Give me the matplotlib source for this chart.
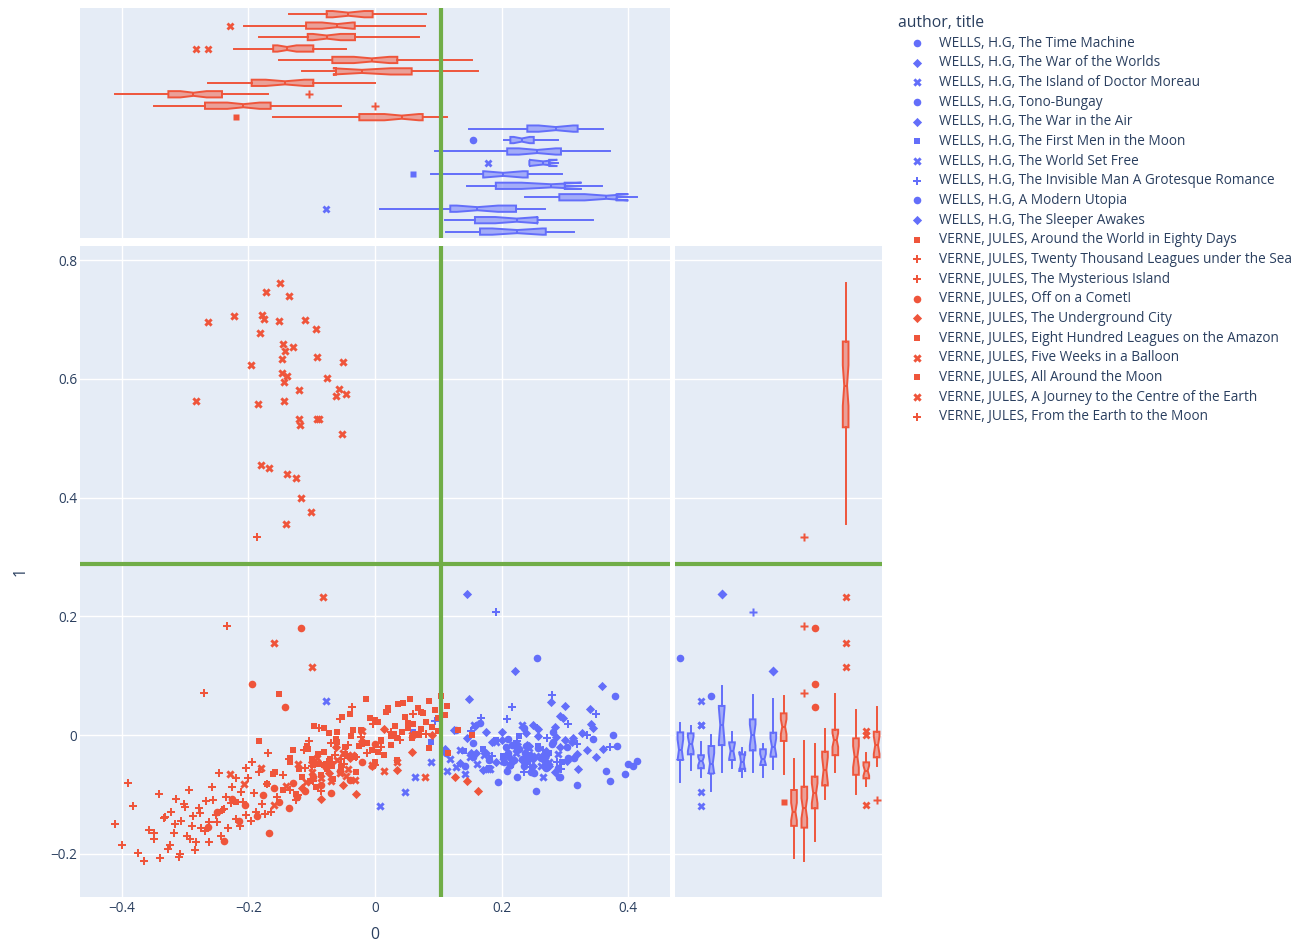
import matplotlib.pyplot as plt
import matplotlib.colors as mcolors
from matplotlib.ticker import FuncFormatter

plt.rcParams['font.family'] = ['Open Sans', 'DejaVu Sans']

# --- data: one x list and one y list per book ---
titles = [
    "The Time Machine", "The War of the Worlds", "The Island of Doctor Moreau",
    "Tono-Bungay", "The War in the Air", "The First Men in the Moon",
    "The World Set Free", "The Invisible Man A Grotesque Romance",
    "A Modern Utopia", "The Sleeper Awakes",
    "Around the World in Eighty Days", "Twenty Thousand Leagues under the Sea",
    "The Mysterious Island", "Off on a Comet!", "The Underground City",
    "Eight Hundred Leagues on the Amazon", "Five Weeks in a Balloon",
    "All Around the Moon", "A Journey to the Centre of the Earth",
    "From the Earth to the Moon",
]
authors = ["WELLS, H.G"] * 10 + ["VERNE, JULES"] * 10
symbols = ['o', 'D', 'X', 'o', 'D', 's', 'X', 'P', 'o', 'D',
           's', 'P', 'P', 'o', 'D', 's', 'X', 's', 'X', 'P']

tm_x = [0.113, 0.128, 0.142, 0.155, 0.166, 0.180, 0.195, 0.210, 0.225, 0.236,
        0.246, 0.2555, 0.270, 0.282, 0.293, 0.304, 0.315]
tm_y = [-0.030, 0.008, -0.052, -0.014, 0.0197, -0.042, -0.079, -0.006, -0.025,
        0.012, -0.062, 0.130, -0.034, 0.0045, -0.070, -0.020, -0.038]

wow_x = [0.111, 0.125, 0.135, 0.145, 0.152, 0.158, 0.170, 0.185, 0.200, 0.212,
         0.224, 0.232, 0.238, 0.244, 0.250, 0.257, 0.270, 0.285, 0.300, 0.320, 0.345]
wow_y = [-0.023, 0.008, -0.047, -0.005, -0.030, 0.0157, -0.059, -0.012, 0.005,
         -0.037, -0.015, -0.042, 0.0028, -0.019, -0.052, -0.001, -0.027, 0.013,
         -0.009, -0.0326, 0.011]

moreau_x = [-0.078, 0.008, 0.047, 0.064, 0.089, 0.114, 0.119, 0.128, 0.135, 0.142,
            0.150, 0.156, 0.162, 0.172, 0.182, 0.192, 0.202, 0.212, 0.223, 0.232,
            0.240, 0.248, 0.255, 0.262, 0.269]
moreau_y = [0.058, -0.1196, -0.0966, -0.071, -0.046, -0.061, -0.040, -0.054, -0.025,
            -0.066, -0.037, 0.017, -0.048, -0.034, -0.058, -0.011, -0.044, -0.050,
            -0.030, 0.017, -0.039, -0.056, -0.035, -0.052, -0.042]

tono_x = [0.237, 0.255, 0.270, 0.282, 0.2914, 0.305, 0.320, 0.345, 0.366, 0.372,
          0.376, 0.379, 0.382, 0.395, 0.400, 0.408, 0.415]
tono_y = [-0.030, -0.094, -0.056, -0.012, -0.070, -0.038, -0.085, -0.006, -0.060,
          -0.078, 0.0, 0.066, -0.0185, -0.065, -0.048, -0.052, -0.044]

wair_x = [0.145, 0.160, 0.175, 0.191, 0.220, 0.250, 0.279, 0.285, 0.292, 0.300,
          0.313, 0.340, 0.359]
wair_y = [0.237, -0.030, 0.005, -0.045, -0.017, 0.017, 0.055, -0.063, 0.032, 0.049,
          -0.005, 0.044, 0.0825]

firstmen_x = [0.060, 0.088, 0.140, 0.171, 0.180, 0.192, 0.203, 0.215, 0.228, 0.2414,
              0.258, 0.275, 0.2957]
firstmen_y = [0.0045, -0.0123, -0.027, -0.023, -0.056, -0.008, -0.036, -0.050, -0.002,
              -0.042, -0.018, -0.031, -0.046]

setfree_x = [0.178, 0.244, 0.266, 0.2756, 0.290]
setfree_y = [-0.057, -0.0225, -0.070, -0.045, -0.0326]

invisible_x = [0.0944, 0.151, 0.168, 0.185, 0.192, 0.209, 0.216, 0.225, 0.235, 0.245,
               0.2566, 0.265, 0.272, 0.280, 0.287, 0.294, 0.305, 0.320, 0.335, 0.349,
               0.3716]
invisible_y = [0.024, 0.007, 0.029, -0.035, 0.208, 0.0264, 0.0466, -0.010, -0.062,
               -0.054, 0.012, -0.026, -0.005, 0.067, -0.045, -0.057, 0.018, -0.015,
               0.0, 0.035, -0.021]

utopia_x = [0.155, 0.204, 0.207, 0.209, 0.211, 0.214, 0.217, 0.220, 0.224, 0.228,
            0.232, 0.235, 0.238, 0.241, 0.245, 0.251, 0.257, 0.263, 0.270, 0.280, 0.290]
utopia_y = [-0.037, -0.046, -0.020, -0.060, -0.030, -0.0505, -0.016, -0.042, -0.071,
            -0.024, -0.041, -0.053, -0.018, -0.044, -0.034, -0.064, -0.022, -0.039,
            -0.048, -0.015, -0.056]

sleeper_x = [0.149, 0.175, 0.200, 0.215, 0.222, 0.2408, 0.250, 0.258, 0.266, 0.275,
             0.286, 0.292, 0.298, 0.304, 0.312, 0.3204, 0.328, 0.335, 0.342, 0.350, 0.361]
sleeper_y = [0.060, -0.030, -0.008, -0.047, 0.108, -0.016, -0.040, 0.010, -0.033,
             -0.052, -0.003, -0.0197, 0.028, -0.043, -0.012, -0.058, 0.004, -0.026,
             0.018, -0.0365, -0.023]

eighty_x = [-0.2193, -0.1607, -0.130, -0.100, -0.080, -0.062, -0.048, -0.035, -0.0248,
            -0.012, 0.000, 0.010, 0.018, 0.026, 0.032, 0.037, 0.0422, 0.047, 0.052,
            0.056, 0.060, 0.064, 0.068, 0.072, 0.0754, 0.080, 0.085, 0.090, 0.095,
            0.100, 0.105, 0.110, 0.1144]
eighty_y = [-0.113, -0.0657, -0.025, -0.040, -0.050, -0.006, -0.032, 0.008, -0.019,
            -0.014, 0.025, -0.010, 0.039, -0.002, 0.016, 0.053, 0.005, 0.031, 0.012,
            0.061, 0.019, 0.002, 0.045, 0.010, 0.0365, 0.022, 0.057, 0.014, 0.042,
            0.028, 0.0657, 0.034, 0.049]

twenty_x = [-0.349, -0.340, -0.332, -0.324, -0.316, -0.308, -0.300, -0.292, -0.284,
            -0.276, -0.2688, -0.262, -0.256, -0.250, -0.244, -0.238, -0.232, -0.226,
            -0.220, -0.214, -0.208, -0.204, -0.200, -0.196, -0.192, -0.188, -0.184,
            -0.179, -0.174, -0.170, -0.165, -0.155, -0.145, -0.135, -0.122, -0.110,
            -0.098, -0.085, -0.070, -0.053, 0.0]
twenty_y = [-0.165, -0.2066, -0.138, -0.186, -0.150, -0.200, -0.121, -0.175, -0.193,
            -0.131, -0.161, -0.180, -0.109, -0.147, -0.170, -0.125, -0.157, -0.088,
            -0.141, -0.153, -0.113, -0.135, -0.073, -0.144, -0.098, -0.130, -0.062,
            -0.117, -0.133, -0.083, -0.129, -0.105, -0.068, -0.0926, -0.101, -0.056,
            -0.078, -0.095, -0.045, -0.040, -0.050]

island_x = [-0.411, -0.400, -0.390, -0.382, -0.374, -0.366, -0.358, -0.350, -0.342,
            -0.334, -0.3267, -0.322, -0.318, -0.314, -0.310, -0.306, -0.302, -0.298,
            -0.294, -0.290, -0.287, -0.283, -0.279, -0.275, -0.271, -0.267, -0.262,
            -0.257, -0.252, -0.247, -0.2419, -0.236, -0.2335, -0.228, -0.220, -0.212,
            -0.204, -0.195, -0.187, -0.1686, -0.105]
island_y = [-0.150, -0.186, -0.080, -0.120, -0.198, -0.212, -0.160, -0.175, -0.100,
            -0.140, -0.192, -0.130, -0.165, -0.108, -0.205, -0.144, -0.117, -0.170,
            -0.092, -0.153, -0.137, -0.180, -0.1235, -0.156, 0.070, -0.111, -0.147,
            -0.087, -0.134, -0.064, -0.127, -0.104, 0.184, -0.114, -0.072, -0.096,
            -0.055, -0.045, 0.333, -0.030, -0.0096]

comet_x = [-0.2635, -0.250, -0.238, -0.226, -0.215, -0.205, -0.195, -0.186, -0.177,
           -0.168, -0.160, -0.151, -0.1423, -0.136, -0.130, -0.124, -0.117, -0.110,
           -0.0975, -0.085, -0.070, -0.055, -0.040, -0.020, 0.0]
comet_y = [-0.155, -0.130, -0.178, -0.108, -0.145, -0.118, 0.086, -0.137, -0.101,
           -0.165, -0.090, -0.113, 0.0466, -0.1235, -0.080, -0.104, 0.181, -0.094,
           -0.070, -0.085, -0.098, -0.060, -0.075, -0.045, -0.0157]

underground_x = [-0.1159, -0.100, -0.085, -0.072, -0.0617, -0.050, -0.040, -0.030,
                 -0.021, -0.005, 0.015, 0.035, 0.058, 0.090, 0.1265, 0.1447, 0.1633]
underground_y = [-0.090, -0.046, -0.108, -0.064, -0.020, -0.085, -0.038, -0.100,
                 -0.010, -0.053, 0.0096, -0.059, -0.028, 0.000, -0.070, -0.078, -0.095]

amazon_x = [-0.1518, -0.135, -0.120, -0.108, -0.097, -0.088, -0.080, -0.073, -0.0675,
            -0.060, -0.052, -0.045, -0.038, -0.030, -0.022, -0.014, -0.0053, 0.000,
            0.005, 0.010, 0.015, 0.020, 0.025, 0.030, 0.0353, 0.045, 0.058, 0.072,
            0.086, 0.100, 0.115, 0.132, 0.1528]
amazon_y = [0.069, -0.039, -0.057, -0.019, 0.015, -0.048, -0.028, 0.004, -0.052,
            -0.012, 0.030, -0.036, -0.002, -0.063, 0.009, 0.061, -0.025, -0.045,
            0.022, -0.0084, -0.034, 0.046, -0.016, 0.002, -0.042, 0.054, -0.005,
            0.038, -0.022, 0.006, -0.031, 0.008, 0.000]

balloon_x = [-0.150, -0.173, -0.1365, -0.2234, -0.178, -0.176, -0.264, -0.152, -0.110,
             -0.093, -0.182, -0.146, -0.1296, -0.142, -0.0917, -0.147, -0.0506, -0.1955,
             -0.1475, -0.1386, -0.0764, -0.1434, -0.1207, -0.0564, -0.0622, -0.0458,
             -0.2835, -0.1855, -0.1444, -0.120, -0.0917, -0.089, -0.1186, -0.052,
             -0.1797, -0.167, -0.1396, -0.1254, -0.1175, -0.1012, -0.1412, -0.083,
             -0.159, -0.099]
balloon_y = [0.762, 0.746, 0.740, 0.706, 0.707, 0.701, 0.695, 0.697, 0.699, 0.683,
             0.677, 0.658, 0.654, 0.646, 0.6366, 0.6327, 0.6277, 0.6237, 0.610, 0.6046,
             0.6018, 0.594, 0.5816, 0.5833, 0.5715, 0.5749, 0.562, 0.558, 0.562, 0.5317,
             0.5317, 0.532, 0.522, 0.507, 0.4547, 0.450, 0.439, 0.4328, 0.400, 0.376,
             0.356, 0.232, 0.155, 0.114]

aroundmoon_x = [-0.183, -0.170, -0.158, -0.146, -0.135, -0.125, -0.115, -0.1064, -0.102,
                -0.098, -0.094, -0.090, -0.086, -0.081, -0.0764, -0.071, -0.066, -0.060,
                -0.054, -0.047, -0.040, -0.0316, -0.020, -0.008, 0.005, 0.020, 0.035,
                0.052, 0.0696]
aroundmoon_y = [-0.010, -0.082, -0.063, -0.093, -0.046, -0.100, -0.070, -0.024, -0.078,
                -0.050, -0.087, -0.032, -0.067, 0.012, -0.058, -0.041, -0.074, 0.005,
                -0.054, -0.020, 0.035, -0.0365, -0.015, 0.028, -0.028, 0.042, -0.0056,
                0.020, 0.000]

journey_x = [-0.2287, -0.207, -0.180, -0.160, -0.140, -0.122, -0.109, -0.100, -0.092,
             -0.085, -0.078, -0.070, -0.0596, -0.055, -0.050, -0.046, -0.042, -0.037,
             -0.032, -0.020, -0.005, 0.015, 0.035, 0.058, 0.0796]
journey_y = [-0.066, -0.082, -0.055, -0.118, -0.086, -0.048, -0.079, -0.062, -0.038,
             -0.073, -0.053, -0.077, -0.042, -0.064, -0.030, -0.069, -0.058, -0.034,
             -0.075, 0.006, -0.050, -0.060, -0.046, 0.000, -0.071]

earthmoon_x = [-0.136, -0.125, -0.112, -0.100, -0.088, -0.0764, -0.070, -0.063, -0.056,
               -0.049, -0.042, -0.036, -0.030, -0.022, -0.013, -0.0037, 0.010, 0.025,
               0.040, 0.060, 0.0806]
earthmoon_y = [-0.041, -0.1095, -0.026, -0.053, 0.012, -0.045, -0.013, -0.034, 0.027,
               -0.049, -0.017, 0.0466, -0.0376, -0.004, -0.030, 0.019, -0.021, 0.0056,
               -0.009, 0.036, 0.001]

xs = [tm_x, wow_x, moreau_x, tono_x, wair_x, firstmen_x, setfree_x, invisible_x,
      utopia_x, sleeper_x, eighty_x, twenty_x, island_x, comet_x, underground_x,
      amazon_x, balloon_x, aroundmoon_x, journey_x, earthmoon_x]
ys = [tm_y, wow_y, moreau_y, tono_y, wair_y, firstmen_y, setfree_y, invisible_y,
      utopia_y, sleeper_y, eighty_y, twenty_y, island_y, comet_y, underground_y,
      amazon_y, balloon_y, aroundmoon_y, journey_y, earthmoon_y]

x_split = 0.104
y_split = 0.288

# --- style ---
BLUE, RED = '#636EFA', '#EF553B'
GREEN = '#70AD47'
BG = '#E5ECF6'
TEXT = '#2a3f5f'
msize = {'o': 30, 'D': 22, 's': 25, 'X': 36, 'P': 36}
FS = 9.8

W, H = 1308, 941
fig = plt.figure(figsize=(W / 100, H / 100), dpi=100)


def px_box(l, t, r, b):
    return [l / W, 1 - b / H, (r - l) / W, (b - t) / H]


ax = fig.add_axes(px_box(80, 246, 670, 897))
axt = fig.add_axes(px_box(80, 8, 670, 238))
axr = fig.add_axes(px_box(675, 246, 882, 897))

xlim = (-0.4664, 0.4664)
ylim = (-0.2728, 0.8236)
fmt = FuncFormatter(lambda v, _: f"{v:g}".replace("-", "\u2212"))

for a in (ax, axt, axr):
    a.set_facecolor(BG)
    for s in a.spines.values():
        s.set_visible(False)
    a.set_axisbelow(True)
    a.tick_params(length=0, labelsize=FS, labelcolor=TEXT)

ax.set_xlim(xlim)
ax.set_ylim(ylim)
ax.set_xticks([-0.4, -0.2, 0, 0.2, 0.4])
ax.set_yticks([-0.2, 0, 0.2, 0.4, 0.6, 0.8])
ax.xaxis.set_major_formatter(fmt)
ax.yaxis.set_major_formatter(fmt)
ax.tick_params(axis='x', pad=3)
ax.tick_params(axis='y', pad=2)
ax.grid(color='white', linewidth=1)
ax.set_xlabel("0", fontsize=11.3, color=TEXT)
ax.set_ylabel("1", fontsize=11.3, color=TEXT)
ax.xaxis.set_label_coords(0.5, -0.046)
ax.yaxis.set_label_coords(-0.087, 0.5)

axt.set_xlim(xlim)
axt.set_ylim(-0.56, 19.54)
axt.set_xticks([-0.4, -0.2, 0, 0.2, 0.4])
axt.set_yticks([])
axt.tick_params(labelbottom=False)
axt.grid(axis='x', color='white', linewidth=1)

axr.set_ylim(ylim)
axr.set_xlim(-0.52, 19.52)
axr.set_xticks([])
axr.set_yticks([-0.2, 0, 0.2, 0.4, 0.6, 0.8])
axr.tick_params(labelleft=False)
axr.grid(axis='y', color='white', linewidth=1)

handles = []
for i in range(20):
    col = BLUE if i < 10 else RED
    sym = symbols[i]
    h = ax.scatter(xs[i], ys[i], marker=sym, s=msize[sym], color=col,
                   linewidths=0, zorder=2)
    handles.append(h)

    common = dict(notch=True, widths=0.55, patch_artist=True, showcaps=False,
                  whis=1.5, manage_ticks=False,
                  boxprops=dict(facecolor=mcolors.to_rgba(col, 0.5),
                                edgecolor=col, linewidth=1.4),
                  whiskerprops=dict(color=col, linewidth=1.4),
                  medianprops=dict(color=col, linewidth=1.4),
                  flierprops=dict(marker=sym, markerfacecolor=col,
                                  markeredgecolor='none',
                                  markersize=msize[sym] ** 0.5))
    axt.boxplot(xs[i], positions=[i], orientation='horizontal', **common)
    axr.boxplot(ys[i], positions=[i], orientation='vertical', **common)

for a in (ax, axt):
    a.axvline(x_split, color=GREEN, linewidth=3, zorder=5)
for a in (ax, axr):
    a.axhline(y_split, color=GREEN, linewidth=3, zorder=5)

labels = [f"{a}, {t}" for a, t in zip(authors, titles)]
leg = fig.legend(handles, labels, loc='upper left',
                 bbox_to_anchor=(898 / W, 1 - 15 / H), frameon=False,
                 title="author, title", title_fontsize=11.3, fontsize=FS,
                 alignment='left', borderpad=0, borderaxespad=0,
                 handlelength=2.8, handletextpad=0.22, labelspacing=0.343,
                 scatterpoints=1)
leg.get_title().set_color(TEXT)
for t in leg.get_texts():
    t.set_color(TEXT)

fig.savefig("out.png", dpi=100)
